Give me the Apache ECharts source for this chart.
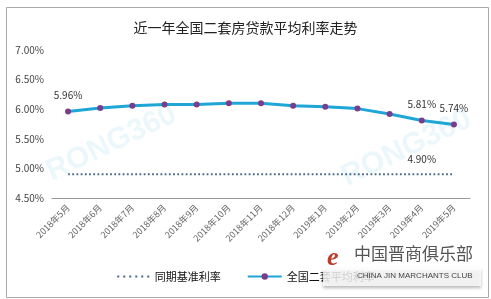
<!DOCTYPE html>
<html><head><meta charset="utf-8">
<script src="https://cdn.jsdelivr.net/npm/echarts@6/dist/echarts.min.js"></script>
<style>html,body{margin:0;padding:0;background:#fff}#c{width:491px;height:299px}</style>
</head><body><div id="c"></div>
<script>
const categories = ['2018年5月','2018年6月','2018年7月','2018年8月','2018年9月','2018年10月','2018年11月','2018年12月','2019年1月','2019年2月','2019年3月','2019年4月','2019年5月'];
const baseRate = [4.90,4.90,4.90,4.90,4.90,4.90,4.90,4.90,4.90,4.90,4.90,4.90,4.90];
const avgRate = [5.96,6.02,6.06,6.08,6.08,6.10,6.10,6.06,6.04,6.01,5.92,5.81,5.74];
const avgLabelIdx = [0,11,12];
const baseLabelIdx = [11];
const seriesNames = ['同期基准利率','全国二套平均利率'];
const title = '近一年全国二套房贷款平均利率走势';

let dots = 'path://M0,0h0.05v0.05h-0.05z M0,7.95h0.05v0.05h-0.05z';
for (let i = 0; i < 6; i++) { dots += ' M' + (i*6+1) + ',3h2v2h-2z'; }

const chart = echarts.init(document.getElementById('c'));
const font = '"SimSun","Noto Sans CJK SC",sans-serif';
chart.setOption({
  animation:false,
  backgroundColor:'#fff',
  title:{text:title,left:'center',top:16,textStyle:{fontSize:14,fontWeight:'normal',color:'#222',fontFamily:font}},
  grid:{left:52,right:21,top:50,bottom:101},
  legend:{bottom:12,left:'center',itemGap:26,itemWidth:34,itemHeight:8,
    textStyle:{fontSize:11,color:'#111',fontFamily:font},
    data:[{name:seriesNames[0],icon:dots,itemStyle:{color:'#4a6a8c'}},{name:seriesNames[1]}]},
  xAxis:{type:'category',data:categories,boundaryGap:true,
    axisLine:{lineStyle:{color:'#999'}},axisTick:{show:false},
    axisLabel:{rotate:45,fontSize:9,color:'#666',margin:8,interval:0,fontFamily:font}},
  yAxis:{type:'value',min:4.5,max:7,interval:0.5,
    axisLine:{show:false},axisTick:{show:false},splitLine:{show:false},
    axisLabel:{fontSize:10,color:'#444',margin:8,fontFamily:font,formatter:v=>v.toFixed(2)+'%'}},
  series:[
    {name:seriesNames[0],type:'line',data:baseRate,symbol:'circle',symbolSize:1,showSymbol:true,
      lineStyle:{type:[1.8,2.4],width:2,color:'#4a6a8c'},itemStyle:{color:'rgba(0,0,0,0)'},
      label:{show:true,position:'top',distance:10,fontSize:10,color:'#333',fontFamily:font,
        formatter:p=>baseLabelIdx.includes(p.dataIndex)?p.value.toFixed(2)+'%':''}},
    {name:seriesNames[1],type:'line',data:avgRate,symbol:'circle',symbolSize:6,
      lineStyle:{width:3,color:'#1ea6d6'},itemStyle:{color:'#7a3d8c'},
      label:{show:true,position:'top',distance:8,fontSize:10,color:'#333',fontFamily:font,
        formatter:p=>avgLabelIdx.includes(p.dataIndex)?p.value.toFixed(2)+'%':''}}
  ],
  graphic:[
    {type:'rect',left:4,top:5,shape:{width:482,height:290},style:{fill:'none',stroke:'#aaa',lineWidth:1},z:-1},
    {type:'text',x:42,y:160,rotation:Math.PI/7,style:{text:'RONG360',fontSize:30,fontWeight:'bold',fill:'rgba(170,220,240,0.22)',fontFamily:'sans-serif'},z:-1},
    {type:'text',x:337,y:165,rotation:Math.PI/7,style:{text:'RONG360',fontSize:30,fontWeight:'bold',fill:'rgba(170,220,240,0.22)',fontFamily:'sans-serif'},z:-1},
    {type:'rect',left:323,top:268,shape:{width:158,height:18},style:{fill:'rgba(255,255,255,0.8)',shadowBlur:3,shadowOffsetY:2,shadowColor:'rgba(0,0,0,0.35)'},z:10},
    {type:'text',x:327,y:245,style:{text:'e',fontSize:26,fontStyle:'italic',fontWeight:'bold',fill:'#c0392b',fontFamily:'serif'},z:11},
    {type:'text',x:354,y:245,style:{text:'中国晋商俱乐部',fontSize:17,fill:'#555',fontFamily:'"Noto Sans CJK SC",sans-serif'},z:11},
    {type:'text',x:357,y:272,style:{text:'CHINA JIN MARCHANTS CLUB',fontSize:8,fill:'#444',fontFamily:'sans-serif'},z:11}
  ]
});
</script></body></html>
